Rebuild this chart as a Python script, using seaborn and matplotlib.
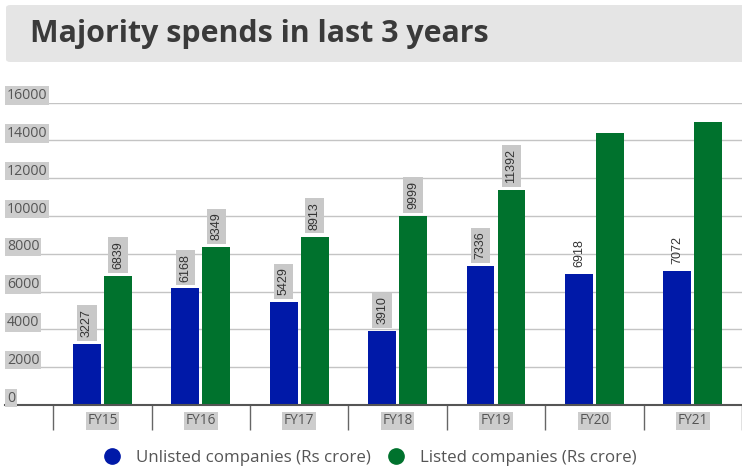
import matplotlib
matplotlib.use("Agg")
import matplotlib.pyplot as plt
import seaborn as sns
import pandas as pd
from matplotlib.patches import FancyBboxPatch
from matplotlib.lines import Line2D
from matplotlib.transforms import offset_copy

# ---- data ----
years = ["FY15", "FY16", "FY17", "FY18", "FY19", "FY20", "FY21"]
unlisted = [3227, 6168, 5429, 3910, 7336, 6918, 7072]
listed = [6839, 8349, 8913, 9999, 11392, 14400, 14960]
unlisted_labels = ["3227", "6168", "5429", "3910", "7336", "6918", "7072"]
listed_labels = ["6839", "8349", "8913", "9999", "11392", "", ""]
series_names = ["Unlisted companies (Rs crore)", "Listed companies (Rs crore)"]
y_ticks = [0, 2000, 4000, 6000, 8000, 10000, 12000, 14000, 16000]
title = "Majority spends in last 3 years"

BLUE = "#0019a8"
GREEN = "#00722d"

df = pd.DataFrame({
    "year": years * 2,
    "value": unlisted + listed,
    "series": [series_names[0]] * len(years) + [series_names[1]] * len(years),
})

sns.set_theme(style="white")
plt.rcParams["font.family"] = ["Open Sans", "DejaVu Sans"]

fig = plt.figure(figsize=(7.42, 4.69), dpi=100)
ax = fig.add_axes([5 / 742, 1 - 405 / 469, 1 - 5 / 742, (405 - 102.7) / 469])

sns.barplot(data=df, x="year", y="value", hue="series", order=years,
            hue_order=series_names, palette=[BLUE, GREEN], saturation=1,
            width=0.63, gap=0.1, linewidth=0, ax=ax, legend=False)

ax.set_xlim(-0.99, 6.5)
ax.set_ylim(0, 16000)
ax.set_xlabel("")
ax.set_ylabel("")

# grid
ax.set_yticks(y_ticks)
ax.yaxis.grid(True, color="#c4c4c4", linewidth=1)
ax.set_axisbelow(True)
ax.tick_params(axis="y", length=0, labelleft=False)
for s in ["top", "left", "right"]:
    ax.spines[s].set_visible(False)
ax.spines["bottom"].set_color("#555555")
ax.spines["bottom"].set_linewidth(1.5)

# y tick labels above gridlines
trans = offset_copy(ax.get_yaxis_transform(), fig=fig, x=2, y=3.5, units="dots")
for v in y_ticks:
    ax.text(0, v, str(v), transform=trans, ha="left", va="baseline",
            fontsize=10.2, color="#555555",
            bbox=dict(boxstyle="square,pad=0.12", fc="#cdcdcd", ec="none"))

# x ticks
ax.set_xticks(range(len(years)))
ax.set_xticklabels(years)
ax.set_xticks([i - 0.5 for i in range(len(years) + 1)], minor=True)
ax.tick_params(axis="x", which="major", length=0, pad=6, labelsize=9.8,
               labelcolor="#555555")
ax.tick_params(axis="x", which="minor", length=18, width=1, color="#666666",
               bottom=True)
for t in ax.get_xticklabels():
    t.set_bbox(dict(boxstyle="square,pad=0.12", fc="#cdcdcd", ec="none"))

# value labels
label_font = ["Liberation Sans Narrow", "Liberation Sans", "DejaVu Sans"]
box = dict(boxstyle="square,pad=0.3", fc="#c8c8c8", ec="none")
for cont, labs in zip(ax.containers, [unlisted_labels, listed_labels]):
    texts = ax.bar_label(cont, labels=labs, padding=5, rotation=90,
                         fontsize=9, color="#333333", family=label_font,
                         bbox=box)
    if cont is ax.containers[0]:
        for i in (5, 6):
            texts[i].set_bbox(None)

# title box
fig.patches.append(FancyBboxPatch((6 / 742, 1 - 62 / 469), 740 / 742, 57 / 469,
                                  boxstyle="round,pad=0,rounding_size=0.006",
                                  transform=fig.transFigure, fc="#e5e5e5",
                                  ec="none", zorder=0))
fig.text(30 / 742, 1 - 34 / 469, title, fontsize=21.9, fontweight="bold",
         color="#3a3a3a", va="center", ha="left")

# legend
handles = [Line2D([], [], marker="o", linestyle="none", markersize=11,
                  markerfacecolor=c, markeredgecolor=c) for c in (BLUE, GREEN)]
leg = fig.legend(handles, series_names, loc="center",
                 bbox_to_anchor=(0.493, 1 - 458 / 469), ncol=2, frameon=False,
                 fontsize=12.2, handletextpad=0.4, columnspacing=0.5)
for t in leg.get_texts():
    t.set_color("#555555")

fig.savefig("out.png", dpi=100)
